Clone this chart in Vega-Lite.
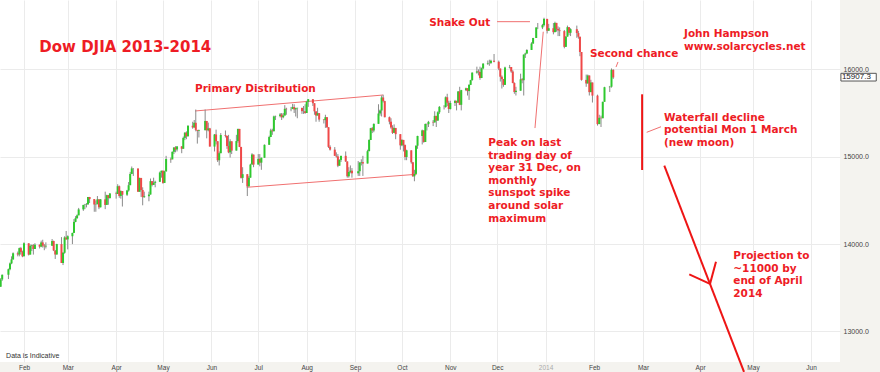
{
  "$schema": "https://vega.github.io/schema/vega-lite/v6.json",
  "width": 840,
  "height": 362,
  "autosize": "none",
  "padding": {"left": 0, "top": 0, "right": 40, "bottom": 10},
  "background": "#f4f3ef",
  "config": {
    "view": {"stroke": null, "fill": "white"},
    "axis": {"ticks": false, "domain": false, "grid": true, "gridColor": "#ebebeb", "gridWidth": 1, "labelFont": "Liberation Sans", "labelColor": "#444444", "labelFlush": false, "labelOverlap": false}
  },
  "datasets": {
    "candles": [
      {"d":"2013-01-17","o":13511,"h":13610,"l":13511,"c":13596},
      {"d":"2013-01-18","o":13596,"h":13652,"l":13580,"c":13649},
      {"d":"2013-01-22","o":13649,"h":13720,"l":13600,"c":13712},
      {"d":"2013-01-23","o":13712,"h":13790,"l":13700,"c":13779},
      {"d":"2013-01-24","o":13779,"h":13860,"l":13770,"c":13825},
      {"d":"2013-01-25","o":13825,"h":13905,"l":13820,"c":13895},
      {"d":"2013-01-28","o":13895,"h":13915,"l":13860,"c":13881},
      {"d":"2013-01-29","o":13881,"h":13960,"l":13860,"c":13954},
      {"d":"2013-01-30","o":13954,"h":13968,"l":13880,"c":13910},
      {"d":"2013-01-31","o":13910,"h":13925,"l":13850,"c":13860},
      {"d":"2013-02-01","o":13860,"h":14020,"l":13860,"c":14009},
      {"d":"2013-02-04","o":14009,"h":14010,"l":13870,"c":13880},
      {"d":"2013-02-05","o":13880,"h":13995,"l":13880,"c":13979},
      {"d":"2013-02-06","o":13979,"h":13995,"l":13920,"c":13986},
      {"d":"2013-02-07","o":13986,"h":14000,"l":13880,"c":13944},
      {"d":"2013-02-08","o":13944,"h":14010,"l":13944,"c":13993},
      {"d":"2013-02-11","o":13993,"h":13995,"l":13950,"c":13971},
      {"d":"2013-02-12","o":13971,"h":14040,"l":13965,"c":14019},
      {"d":"2013-02-13","o":14019,"h":14050,"l":13960,"c":13982},
      {"d":"2013-02-14","o":13982,"h":14000,"l":13930,"c":13973},
      {"d":"2013-02-15","o":13973,"h":14020,"l":13950,"c":13981},
      {"d":"2013-02-19","o":13981,"h":14058,"l":13980,"c":14035},
      {"d":"2013-02-20","o":14035,"h":14040,"l":13920,"c":13927},
      {"d":"2013-02-21","o":13927,"h":13930,"l":13830,"c":13881},
      {"d":"2013-02-22","o":13881,"h":14004,"l":13880,"c":14000},
      {"d":"2013-02-25","o":14000,"h":14080,"l":13784,"c":13784},
      {"d":"2013-02-26","o":13784,"h":13910,"l":13760,"c":13900},
      {"d":"2013-02-27","o":13900,"h":14090,"l":13890,"c":14075},
      {"d":"2013-02-28","o":14075,"h":14150,"l":14050,"c":14054},
      {"d":"2013-03-01","o":14054,"h":14100,"l":13940,"c":14090},
      {"d":"2013-03-04","o":14090,"h":14130,"l":14000,"c":14128},
      {"d":"2013-03-05","o":14128,"h":14287,"l":14128,"c":14254},
      {"d":"2013-03-06","o":14254,"h":14320,"l":14250,"c":14296},
      {"d":"2013-03-07","o":14296,"h":14340,"l":14290,"c":14329},
      {"d":"2013-03-08","o":14329,"h":14414,"l":14330,"c":14397},
      {"d":"2013-03-11","o":14397,"h":14450,"l":14380,"c":14448},
      {"d":"2013-03-12","o":14448,"h":14460,"l":14400,"c":14451},
      {"d":"2013-03-13","o":14451,"h":14470,"l":14420,"c":14455},
      {"d":"2013-03-14","o":14455,"h":14540,"l":14450,"c":14539},
      {"d":"2013-03-15","o":14539,"h":14540,"l":14470,"c":14515},
      {"d":"2013-03-18","o":14515,"h":14515,"l":14370,"c":14453},
      {"d":"2013-03-19","o":14453,"h":14500,"l":14370,"c":14456},
      {"d":"2013-03-20","o":14456,"h":14550,"l":14456,"c":14512},
      {"d":"2013-03-21","o":14512,"h":14512,"l":14400,"c":14421},
      {"d":"2013-03-22","o":14421,"h":14515,"l":14420,"c":14512},
      {"d":"2013-03-25","o":14512,"h":14600,"l":14400,"c":14448},
      {"d":"2013-03-26","o":14448,"h":14565,"l":14450,"c":14560},
      {"d":"2013-03-27","o":14560,"h":14560,"l":14450,"c":14527},
      {"d":"2013-03-28","o":14527,"h":14585,"l":14520,"c":14579},
      {"d":"2013-04-01","o":14579,"h":14600,"l":14520,"c":14573},
      {"d":"2013-04-02","o":14573,"h":14685,"l":14573,"c":14662},
      {"d":"2013-04-03","o":14662,"h":14670,"l":14530,"c":14551},
      {"d":"2013-04-04","o":14551,"h":14615,"l":14520,"c":14607},
      {"d":"2013-04-05","o":14607,"h":14607,"l":14430,"c":14565},
      {"d":"2013-04-08","o":14565,"h":14620,"l":14550,"c":14614},
      {"d":"2013-04-09","o":14614,"h":14710,"l":14600,"c":14674},
      {"d":"2013-04-10","o":14674,"h":14826,"l":14674,"c":14803},
      {"d":"2013-04-11","o":14803,"h":14888,"l":14803,"c":14866},
      {"d":"2013-04-12","o":14866,"h":14870,"l":14780,"c":14865},
      {"d":"2013-04-15","o":14865,"h":14865,"l":14599,"c":14599},
      {"d":"2013-04-16","o":14599,"h":14760,"l":14599,"c":14757},
      {"d":"2013-04-17","o":14757,"h":14757,"l":14540,"c":14619},
      {"d":"2013-04-18","o":14619,"h":14650,"l":14444,"c":14537},
      {"d":"2013-04-19","o":14537,"h":14600,"l":14530,"c":14548},
      {"d":"2013-04-22","o":14548,"h":14600,"l":14490,"c":14567},
      {"d":"2013-04-23","o":14567,"h":14750,"l":14567,"c":14720},
      {"d":"2013-04-24","o":14720,"h":14720,"l":14660,"c":14677},
      {"d":"2013-04-25","o":14677,"h":14760,"l":14677,"c":14701},
      {"d":"2013-04-26","o":14701,"h":14725,"l":14650,"c":14713},
      {"d":"2013-04-29","o":14713,"h":14830,"l":14710,"c":14819},
      {"d":"2013-04-30","o":14819,"h":14840,"l":14760,"c":14840},
      {"d":"2013-05-01","o":14840,"h":14840,"l":14690,"c":14700},
      {"d":"2013-05-02","o":14700,"h":14840,"l":14700,"c":14831},
      {"d":"2013-05-03","o":14831,"h":15010,"l":14831,"c":14974},
      {"d":"2013-05-06","o":14974,"h":14990,"l":14930,"c":14969},
      {"d":"2013-05-07","o":14969,"h":15060,"l":14970,"c":15056},
      {"d":"2013-05-08","o":15056,"h":15110,"l":15030,"c":15105},
      {"d":"2013-05-09","o":15105,"h":15120,"l":15050,"c":15083},
      {"d":"2013-05-10","o":15083,"h":15120,"l":15060,"c":15118},
      {"d":"2013-05-13","o":15118,"h":15120,"l":15040,"c":15091},
      {"d":"2013-05-14","o":15091,"h":15230,"l":15090,"c":15215},
      {"d":"2013-05-15","o":15215,"h":15280,"l":15190,"c":15275},
      {"d":"2013-05-16","o":15275,"h":15290,"l":15200,"c":15233},
      {"d":"2013-05-17","o":15233,"h":15360,"l":15233,"c":15354},
      {"d":"2013-05-20","o":15354,"h":15400,"l":15320,"c":15335},
      {"d":"2013-05-21","o":15335,"h":15420,"l":15330,"c":15388},
      {"d":"2013-05-22","o":15388,"h":15540,"l":15290,"c":15307},
      {"d":"2013-05-23","o":15307,"h":15300,"l":15150,"c":15295},
      {"d":"2013-05-24","o":15295,"h":15310,"l":15220,"c":15303},
      {"d":"2013-05-28","o":15303,"h":15540,"l":15303,"c":15409},
      {"d":"2013-05-29","o":15409,"h":15409,"l":15210,"c":15302},
      {"d":"2013-05-30","o":15302,"h":15390,"l":15290,"c":15324},
      {"d":"2013-05-31","o":15324,"h":15330,"l":15116,"c":15116},
      {"d":"2013-06-03","o":15116,"h":15260,"l":15060,"c":15254},
      {"d":"2013-06-04","o":15254,"h":15310,"l":15140,"c":15177},
      {"d":"2013-06-05","o":15177,"h":15177,"l":14940,"c":14960},
      {"d":"2013-06-06","o":14960,"h":15060,"l":14900,"c":15040},
      {"d":"2013-06-07","o":15040,"h":15270,"l":15040,"c":15248},
      {"d":"2013-06-10","o":15248,"h":15300,"l":15220,"c":15239},
      {"d":"2013-06-11","o":15239,"h":15239,"l":15090,"c":15122},
      {"d":"2013-06-12","o":15122,"h":15250,"l":15040,"c":15050},
      {"d":"2013-06-13","o":15050,"h":15200,"l":14990,"c":15176},
      {"d":"2013-06-14","o":15176,"h":15176,"l":15030,"c":15070},
      {"d":"2013-06-17","o":15070,"h":15250,"l":15070,"c":15179},
      {"d":"2013-06-18","o":15179,"h":15320,"l":15160,"c":15318},
      {"d":"2013-06-19","o":15318,"h":15318,"l":15110,"c":15112},
      {"d":"2013-06-20","o":15112,"h":15112,"l":14750,"c":14758},
      {"d":"2013-06-21","o":14758,"h":14880,"l":14700,"c":14800},
      {"d":"2013-06-24","o":14800,"h":14800,"l":14550,"c":14660},
      {"d":"2013-06-25","o":14660,"h":14780,"l":14660,"c":14760},
      {"d":"2013-06-26","o":14760,"h":14920,"l":14760,"c":14910},
      {"d":"2013-06-27","o":14910,"h":15040,"l":14910,"c":15024},
      {"d":"2013-06-28","o":15024,"h":15024,"l":14880,"c":14910},
      {"d":"2013-07-01","o":14910,"h":15030,"l":14910,"c":14975},
      {"d":"2013-07-02","o":14975,"h":15030,"l":14890,"c":14932},
      {"d":"2013-07-03","o":14932,"h":14990,"l":14850,"c":14988},
      {"d":"2013-07-05","o":14988,"h":15140,"l":14988,"c":15136},
      {"d":"2013-07-08","o":15136,"h":15240,"l":15136,"c":15225},
      {"d":"2013-07-09","o":15225,"h":15320,"l":15225,"c":15300},
      {"d":"2013-07-10","o":15300,"h":15320,"l":15250,"c":15291},
      {"d":"2013-07-11","o":15291,"h":15470,"l":15291,"c":15461},
      {"d":"2013-07-12","o":15461,"h":15470,"l":15420,"c":15464},
      {"d":"2013-07-15","o":15464,"h":15500,"l":15450,"c":15484},
      {"d":"2013-07-16","o":15484,"h":15500,"l":15420,"c":15452},
      {"d":"2013-07-17","o":15452,"h":15500,"l":15440,"c":15471},
      {"d":"2013-07-18","o":15471,"h":15590,"l":15471,"c":15548},
      {"d":"2013-07-19","o":15548,"h":15560,"l":15480,"c":15543},
      {"d":"2013-07-22","o":15543,"h":15570,"l":15520,"c":15545},
      {"d":"2013-07-23","o":15545,"h":15604,"l":15545,"c":15568},
      {"d":"2013-07-24","o":15568,"h":15600,"l":15500,"c":15542},
      {"d":"2013-07-25","o":15542,"h":15560,"l":15460,"c":15555},
      {"d":"2013-07-26","o":15555,"h":15560,"l":15440,"c":15559},
      {"d":"2013-07-29","o":15559,"h":15559,"l":15490,"c":15521},
      {"d":"2013-07-30","o":15521,"h":15580,"l":15490,"c":15520},
      {"d":"2013-07-31","o":15520,"h":15600,"l":15490,"c":15500},
      {"d":"2013-08-01","o":15500,"h":15640,"l":15500,"c":15628},
      {"d":"2013-08-02","o":15628,"h":15660,"l":15570,"c":15658},
      {"d":"2013-08-05","o":15658,"h":15658,"l":15580,"c":15612},
      {"d":"2013-08-06","o":15612,"h":15612,"l":15480,"c":15519},
      {"d":"2013-08-07","o":15519,"h":15519,"l":15400,"c":15471},
      {"d":"2013-08-08","o":15471,"h":15560,"l":15471,"c":15498},
      {"d":"2013-08-09","o":15498,"h":15500,"l":15400,"c":15425},
      {"d":"2013-08-12","o":15425,"h":15430,"l":15380,"c":15419},
      {"d":"2013-08-13","o":15419,"h":15480,"l":15330,"c":15452},
      {"d":"2013-08-14","o":15452,"h":15452,"l":15330,"c":15337},
      {"d":"2013-08-15","o":15337,"h":15337,"l":15100,"c":15112},
      {"d":"2013-08-16","o":15112,"h":15130,"l":15070,"c":15081},
      {"d":"2013-08-19","o":15081,"h":15110,"l":15010,"c":15010},
      {"d":"2013-08-20","o":15010,"h":15050,"l":14990,"c":15003},
      {"d":"2013-08-21","o":15003,"h":15030,"l":14880,"c":14897},
      {"d":"2013-08-22","o":14897,"h":14970,"l":14897,"c":14963},
      {"d":"2013-08-23","o":14963,"h":15010,"l":14940,"c":15010},
      {"d":"2013-08-26","o":15010,"h":15060,"l":14940,"c":14946},
      {"d":"2013-08-27","o":14946,"h":14946,"l":14760,"c":14776},
      {"d":"2013-08-28","o":14776,"h":14880,"l":14760,"c":14825},
      {"d":"2013-08-29","o":14825,"h":14900,"l":14810,"c":14840},
      {"d":"2013-08-30","o":14840,"h":14870,"l":14760,"c":14810},
      {"d":"2013-09-03","o":14810,"h":14950,"l":14780,"c":14834},
      {"d":"2013-09-04","o":14834,"h":14940,"l":14780,"c":14931},
      {"d":"2013-09-05","o":14931,"h":14970,"l":14900,"c":14938},
      {"d":"2013-09-06","o":14938,"h":15010,"l":14780,"c":14922},
      {"d":"2013-09-09","o":14922,"h":15080,"l":14922,"c":15063},
      {"d":"2013-09-10","o":15063,"h":15200,"l":15063,"c":15191},
      {"d":"2013-09-11","o":15191,"h":15330,"l":15191,"c":15326},
      {"d":"2013-09-12","o":15326,"h":15340,"l":15270,"c":15300},
      {"d":"2013-09-13","o":15300,"h":15380,"l":15280,"c":15376},
      {"d":"2013-09-16","o":15376,"h":15600,"l":15376,"c":15494},
      {"d":"2013-09-17","o":15494,"h":15540,"l":15470,"c":15529},
      {"d":"2013-09-18","o":15529,"h":15700,"l":15460,"c":15677},
      {"d":"2013-09-19","o":15677,"h":15709,"l":15620,"c":15636},
      {"d":"2013-09-20","o":15636,"h":15640,"l":15450,"c":15452},
      {"d":"2013-09-23","o":15452,"h":15460,"l":15370,"c":15401},
      {"d":"2013-09-24","o":15401,"h":15440,"l":15320,"c":15334},
      {"d":"2013-09-25","o":15334,"h":15360,"l":15260,"c":15273},
      {"d":"2013-09-26","o":15273,"h":15370,"l":15273,"c":15329},
      {"d":"2013-09-27","o":15329,"h":15329,"l":15200,"c":15258},
      {"d":"2013-09-30","o":15258,"h":15258,"l":15080,"c":15130},
      {"d":"2013-10-01","o":15130,"h":15200,"l":15120,"c":15192},
      {"d":"2013-10-02","o":15192,"h":15192,"l":15060,"c":15133},
      {"d":"2013-10-03","o":15133,"h":15140,"l":14960,"c":14997},
      {"d":"2013-10-04","o":14997,"h":15080,"l":14960,"c":15073},
      {"d":"2013-10-07","o":15073,"h":15073,"l":14920,"c":14936},
      {"d":"2013-10-08","o":14936,"h":14940,"l":14770,"c":14776},
      {"d":"2013-10-09","o":14776,"h":14850,"l":14719,"c":14803},
      {"d":"2013-10-10","o":14803,"h":15130,"l":14803,"c":15126},
      {"d":"2013-10-11","o":15126,"h":15240,"l":15090,"c":15237},
      {"d":"2013-10-14","o":15237,"h":15310,"l":15140,"c":15301},
      {"d":"2013-10-15","o":15301,"h":15301,"l":15160,"c":15168},
      {"d":"2013-10-16","o":15168,"h":15380,"l":15168,"c":15374},
      {"d":"2013-10-17","o":15374,"h":15380,"l":15300,"c":15372},
      {"d":"2013-10-18","o":15372,"h":15410,"l":15340,"c":15399},
      {"d":"2013-10-21","o":15399,"h":15420,"l":15350,"c":15392},
      {"d":"2013-10-22","o":15392,"h":15520,"l":15392,"c":15467},
      {"d":"2013-10-23","o":15467,"h":15467,"l":15340,"c":15413},
      {"d":"2013-10-24","o":15413,"h":15520,"l":15413,"c":15509},
      {"d":"2013-10-25","o":15509,"h":15580,"l":15490,"c":15570},
      {"d":"2013-10-28","o":15570,"h":15590,"l":15540,"c":15569},
      {"d":"2013-10-29","o":15569,"h":15690,"l":15560,"c":15680},
      {"d":"2013-10-30","o":15680,"h":15720,"l":15580,"c":15618},
      {"d":"2013-10-31","o":15618,"h":15640,"l":15500,"c":15546},
      {"d":"2013-11-01","o":15546,"h":15640,"l":15540,"c":15615},
      {"d":"2013-11-04","o":15615,"h":15650,"l":15580,"c":15639},
      {"d":"2013-11-05","o":15639,"h":15640,"l":15530,"c":15618},
      {"d":"2013-11-06","o":15618,"h":15750,"l":15618,"c":15747},
      {"d":"2013-11-07","o":15747,"h":15800,"l":15590,"c":15594},
      {"d":"2013-11-08","o":15594,"h":15765,"l":15530,"c":15762},
      {"d":"2013-11-11","o":15762,"h":15790,"l":15750,"c":15783},
      {"d":"2013-11-12","o":15783,"h":15783,"l":15700,"c":15751},
      {"d":"2013-11-13","o":15751,"h":15830,"l":15650,"c":15822},
      {"d":"2013-11-14","o":15822,"h":15880,"l":15820,"c":15876},
      {"d":"2013-11-15","o":15876,"h":15965,"l":15870,"c":15962},
      {"d":"2013-11-18","o":15962,"h":16030,"l":15950,"c":15976},
      {"d":"2013-11-19","o":15976,"h":16000,"l":15930,"c":15968},
      {"d":"2013-11-20","o":15968,"h":16030,"l":15880,"c":15900},
      {"d":"2013-11-21","o":15900,"h":16020,"l":15900,"c":16010},
      {"d":"2013-11-22","o":16010,"h":16070,"l":16000,"c":16065},
      {"d":"2013-11-25","o":16065,"h":16100,"l":16050,"c":16073},
      {"d":"2013-11-26","o":16073,"h":16110,"l":16040,"c":16073},
      {"d":"2013-11-27","o":16073,"h":16110,"l":16060,"c":16098},
      {"d":"2013-11-29","o":16098,"h":16175,"l":16080,"c":16086},
      {"d":"2013-12-02","o":16086,"h":16100,"l":15990,"c":16009},
      {"d":"2013-12-03","o":16009,"h":16009,"l":15860,"c":15915},
      {"d":"2013-12-04","o":15915,"h":15930,"l":15780,"c":15889},
      {"d":"2013-12-05","o":15889,"h":15889,"l":15800,"c":15822},
      {"d":"2013-12-06","o":15822,"h":16030,"l":15822,"c":16021},
      {"d":"2013-12-09","o":16021,"h":16050,"l":16010,"c":16026},
      {"d":"2013-12-10","o":16026,"h":16026,"l":15960,"c":15974},
      {"d":"2013-12-11","o":15974,"h":15990,"l":15840,"c":15844},
      {"d":"2013-12-12","o":15844,"h":15850,"l":15720,"c":15740},
      {"d":"2013-12-13","o":15740,"h":15800,"l":15700,"c":15755},
      {"d":"2013-12-16","o":15755,"h":15950,"l":15755,"c":15885},
      {"d":"2013-12-17","o":15885,"h":15900,"l":15840,"c":15875},
      {"d":"2013-12-18","o":15875,"h":16170,"l":15700,"c":16168},
      {"d":"2013-12-19","o":16168,"h":16190,"l":16130,"c":16180},
      {"d":"2013-12-20","o":16180,"h":16230,"l":16180,"c":16221},
      {"d":"2013-12-23","o":16221,"h":16310,"l":16221,"c":16295},
      {"d":"2013-12-24","o":16295,"h":16360,"l":16290,"c":16358},
      {"d":"2013-12-26","o":16358,"h":16480,"l":16358,"c":16479},
      {"d":"2013-12-27","o":16479,"h":16530,"l":16460,"c":16479},
      {"d":"2013-12-30","o":16479,"h":16520,"l":16460,"c":16505},
      {"d":"2013-12-31","o":16505,"h":16590,"l":16490,"c":16577},
      {"d":"2014-01-02","o":16577,"h":16577,"l":16410,"c":16441},
      {"d":"2014-01-03","o":16441,"h":16520,"l":16440,"c":16470},
      {"d":"2014-01-06","o":16470,"h":16530,"l":16400,"c":16425},
      {"d":"2014-01-07","o":16425,"h":16545,"l":16425,"c":16531},
      {"d":"2014-01-08","o":16531,"h":16531,"l":16430,"c":16463},
      {"d":"2014-01-09","o":16463,"h":16490,"l":16380,"c":16445},
      {"d":"2014-01-10","o":16445,"h":16480,"l":16380,"c":16437},
      {"d":"2014-01-13","o":16437,"h":16450,"l":16240,"c":16257},
      {"d":"2014-01-14","o":16257,"h":16380,"l":16257,"c":16374},
      {"d":"2014-01-15","o":16374,"h":16500,"l":16374,"c":16482},
      {"d":"2014-01-16","o":16482,"h":16482,"l":16390,"c":16418},
      {"d":"2014-01-17","o":16418,"h":16470,"l":16380,"c":16459},
      {"d":"2014-01-21","o":16459,"h":16500,"l":16360,"c":16415},
      {"d":"2014-01-22","o":16415,"h":16440,"l":16350,"c":16373},
      {"d":"2014-01-23","o":16373,"h":16373,"l":16150,"c":16198},
      {"d":"2014-01-24","o":16198,"h":16198,"l":15870,"c":15879},
      {"d":"2014-01-27","o":15879,"h":15940,"l":15800,"c":15838},
      {"d":"2014-01-28","o":15838,"h":15940,"l":15838,"c":15929},
      {"d":"2014-01-29","o":15929,"h":15929,"l":15700,"c":15739},
      {"d":"2014-01-30","o":15739,"h":15880,"l":15739,"c":15849},
      {"d":"2014-01-31","o":15849,"h":15849,"l":15620,"c":15699},
      {"d":"2014-02-03","o":15699,"h":15710,"l":15356,"c":15373},
      {"d":"2014-02-04","o":15373,"h":15480,"l":15373,"c":15445},
      {"d":"2014-02-05","o":15445,"h":15470,"l":15340,"c":15440},
      {"d":"2014-02-06","o":15440,"h":15630,"l":15440,"c":15628},
      {"d":"2014-02-07","o":15628,"h":15800,"l":15628,"c":15795},
      {"d":"2014-02-10","o":15795,"h":15810,"l":15740,"c":15801},
      {"d":"2014-02-11","o":15801,"h":16010,"l":15790,"c":15994},
      {"d":"2014-02-12","o":15994,"h":16000,"l":15890,"c":15907}
    ],
    "thin": [
      {"g":"top","d":"2013-05-21T12:00Z","v":15523},
      {"g":"top","d":"2013-09-19T00:00Z","v":15706},
      {"g":"bot","d":"2013-06-23T14:00Z","v":14650},
      {"g":"bot","d":"2013-10-10T12:00Z","v":14799},
      {"g":"shake","d":"2013-11-30T22:00Z","v":16545},
      {"g":"shake","d":"2013-12-22T00:00Z","v":16545},
      {"g":"peak","d":"2013-12-25T05:00Z","v":15328},
      {"g":"peak","d":"2013-12-30T12:00Z","v":16430},
      {"g":"second","d":"2014-02-13T14:00Z","v":16026},
      {"g":"second","d":"2014-02-14T17:00Z","v":16084},
      {"g":"wpoint","d":"2014-03-03T00:00Z","v":15279},
      {"g":"wpoint","d":"2014-03-10T19:00Z","v":15343}
    ],
    "thick": [
      {"g":"wf","d":"2014-02-28T12:00Z","v":15714},
      {"g":"wf","d":"2014-02-28T12:00Z","v":14848},
      {"g":"proj","d":"2014-03-12T14:00Z","v":14897},
      {"g":"proj","d":"2014-04-25T22:00Z","v":12537},
      {"g":"armL","d":"2014-03-26T04:00Z","v":13654},
      {"g":"armL","d":"2014-04-06T16:00Z","v":13545},
      {"g":"armR","d":"2014-04-10T01:00Z","v":13799},
      {"g":"armR","d":"2014-04-06T16:00Z","v":13545}
    ],
    "notes": [
      {"d":"2013-05-21T12:00Z","v":15744,"t":"Primary Distribution"},
      {"d":"2013-10-18T12:00Z","v":16495,"t":"Shake Out"},
      {"d":"2013-11-25T08:00Z","v":15122,"t":"Peak on last\ntrading day of\nyear 31 Dec, on\nmonthly\nsunspot spike\naround solar\nmaximum"},
      {"d":"2014-01-29T10:00Z","v":16137,"t":"Second chance"},
      {"d":"2014-03-23T07:00Z","v":16366,"t":"John Hampson\nwww.solarcycles.net"},
      {"d":"2014-03-12T10:00Z","v":15412,"t":"Waterfall decline\npotential Mon 1 March\n(new moon)"},
      {"d":"2014-04-19T20:00Z","v":13826,"t":"Projection to\n~11000 by\nend of April\n2014"}
    ],
    "title": [
      {"d":"2013-02-10T19:00Z","v":16201,"t":"Dow DJIA 2013-2014"}
    ],
    "small": [
      {"d":"2013-01-20T12:00Z","v":12697,"t":"Data is Indicative"}
    ],
    "last": [
      {"d":"2014-06-17T12:00Z","d2":"2014-07-07T00:00Z","v":15954,"v2":15866,"p":15907.3}
    ]
  },
  "encoding": {
    "x": {
      "field": "d", "type": "temporal",
      "scale": {
        "type": "utc", "nice": false,
        "domain": [
          {"year":2013,"month":1,"date":16,"hours":14,"utc":true},
          {"year":2014,"month":6,"date":17,"utc":true}
        ],
        "domainRaw": {"expr": "[utc(2013,0,16,14), utc(2013,1,1), utc(2014,1,1), utc(2014,2,1), utc(2014,3,1), utc(2014,4,1), utc(2014,5,1), utc(2014,5,17)]"},
        "range": [0, 24, 594, 643, 700, 753, 811, 840]
      },
      "axis": {
        "title": null,
        "orient": "bottom",
        "values": [
          {"year":2013,"month":2,"date":1,"utc":true},
          {"year":2013,"month":3,"date":1,"utc":true},
          {"year":2013,"month":4,"date":1,"utc":true},
          {"year":2013,"month":5,"date":1,"utc":true},
          {"year":2013,"month":6,"date":1,"utc":true},
          {"year":2013,"month":7,"date":1,"utc":true},
          {"year":2013,"month":8,"date":1,"utc":true},
          {"year":2013,"month":9,"date":1,"utc":true},
          {"year":2013,"month":10,"date":1,"utc":true},
          {"year":2013,"month":11,"date":1,"utc":true},
          {"year":2013,"month":12,"date":1,"utc":true},
          {"year":2014,"month":1,"date":1,"utc":true},
          {"year":2014,"month":2,"date":1,"utc":true},
          {"year":2014,"month":3,"date":1,"utc":true},
          {"year":2014,"month":4,"date":1,"utc":true},
          {"year":2014,"month":5,"date":1,"utc":true},
          {"year":2014,"month":6,"date":1,"utc":true}
        ],
        "labelExpr": "utcmonth(datum.value) == 0 ? '2014' : utcFormat(datum.value, '%b')",
        "labelColor": {"condition": {"test": "utcmonth(datum.value) == 0", "value": "#aaaaaa"}, "value": "#444444"},
        "labelFontSize": 6.5,
        "labelPadding": 2,
        "labelAngle": 0
      }
    },
    "y": {
      "field": "v", "type": "quantitative",
      "scale": {"domain": [12651, 16793], "nice": false, "zero": false},
      "axis": {
        "title": null,
        "orient": "right",
        "values": [13000, 14000, 15000, 16000],
        "format": ".1f",
        "labelAlign": "left",
        "labelPadding": 3,
        "labelFontSize": 7,
        "labelColor": "#444444"
      }
    }
  },
  "layer": [
    {
      "data": {"name": "thin"},
      "mark": {"type": "line", "color": "#f07070", "strokeWidth": 1},
      "encoding": {"detail": {"field": "g"}}
    },
    {
      "data": {"name": "candles"},
      "mark": {"type": "rule", "color": "#8a8a8a", "strokeWidth": 1},
      "encoding": {
        "y": {"field": "l", "type": "quantitative", "scale": {"domain": [12651, 16793], "nice": false, "zero": false}, "axis": {"title": null, "orient": "right", "values": [13000, 14000, 15000, 16000], "format": ".1f", "labelAlign": "left", "labelPadding": 3, "labelFontSize": 7, "labelColor": "#444444"}},
        "y2": {"field": "h"}
      }
    },
    {
      "data": {"name": "candles"},
      "mark": {"type": "bar", "width": 2},
      "encoding": {
        "y": {"field": "o", "type": "quantitative", "scale": {"domain": [12651, 16793], "nice": false, "zero": false}, "axis": {"title": null, "orient": "right", "values": [13000, 14000, 15000, 16000], "format": ".1f", "labelAlign": "left", "labelPadding": 3, "labelFontSize": 7, "labelColor": "#444444"}},
        "y2": {"field": "c"},
        "color": {"condition": {"test": "datum.c >= datum.o", "value": "#2ec92e"}, "value": "#f04848"}
      }
    },
    {
      "data": {"name": "thick"},
      "mark": {"type": "line", "color": "#ee1515", "strokeWidth": 2, "clip": false},
      "encoding": {"detail": {"field": "g"}}
    },
    {
      "data": {"name": "notes"},
      "mark": {"type": "text", "align": "left", "baseline": "alphabetic", "font": "DejaVu Sans", "fontWeight": "bold", "fontSize": 10.5, "lineBreak": "\n", "lineHeight": 12.6, "color": "#ee1c25"},
      "encoding": {"text": {"field": "t"}}
    },
    {
      "data": {"name": "title"},
      "mark": {"type": "text", "align": "left", "baseline": "alphabetic", "font": "DejaVu Sans", "fontWeight": "bold", "fontSize": 15, "color": "#ee1c25"},
      "encoding": {"text": {"field": "t"}}
    },
    {
      "data": {"name": "small"},
      "mark": {"type": "text", "align": "left", "baseline": "alphabetic", "font": "Liberation Sans", "fontSize": 7, "color": "#333333"},
      "encoding": {"text": {"field": "t"}}
    },
    {
      "data": {"name": "last"},
      "mark": {"type": "rect", "fill": "white", "stroke": "#555555", "strokeWidth": 1, "clip": false},
      "encoding": {"x2": {"field": "d2"}, "y2": {"field": "v2"}}
    },
    {
      "data": {"name": "last"},
      "mark": {"type": "text", "align": "left", "baseline": "middle", "font": "Liberation Sans", "fontSize": 8, "color": "#222222", "dx": 1, "clip": false},
      "encoding": {
        "y": {"field": "p", "type": "quantitative", "scale": {"domain": [12651, 16793], "nice": false, "zero": false}, "axis": {"title": null, "orient": "right", "values": [13000, 14000, 15000, 16000], "format": ".1f", "labelAlign": "left", "labelPadding": 3, "labelFontSize": 7, "labelColor": "#444444"}},
        "text": {"field": "p", "type": "quantitative", "format": ".1f"}
      }
    }
  ]
}
